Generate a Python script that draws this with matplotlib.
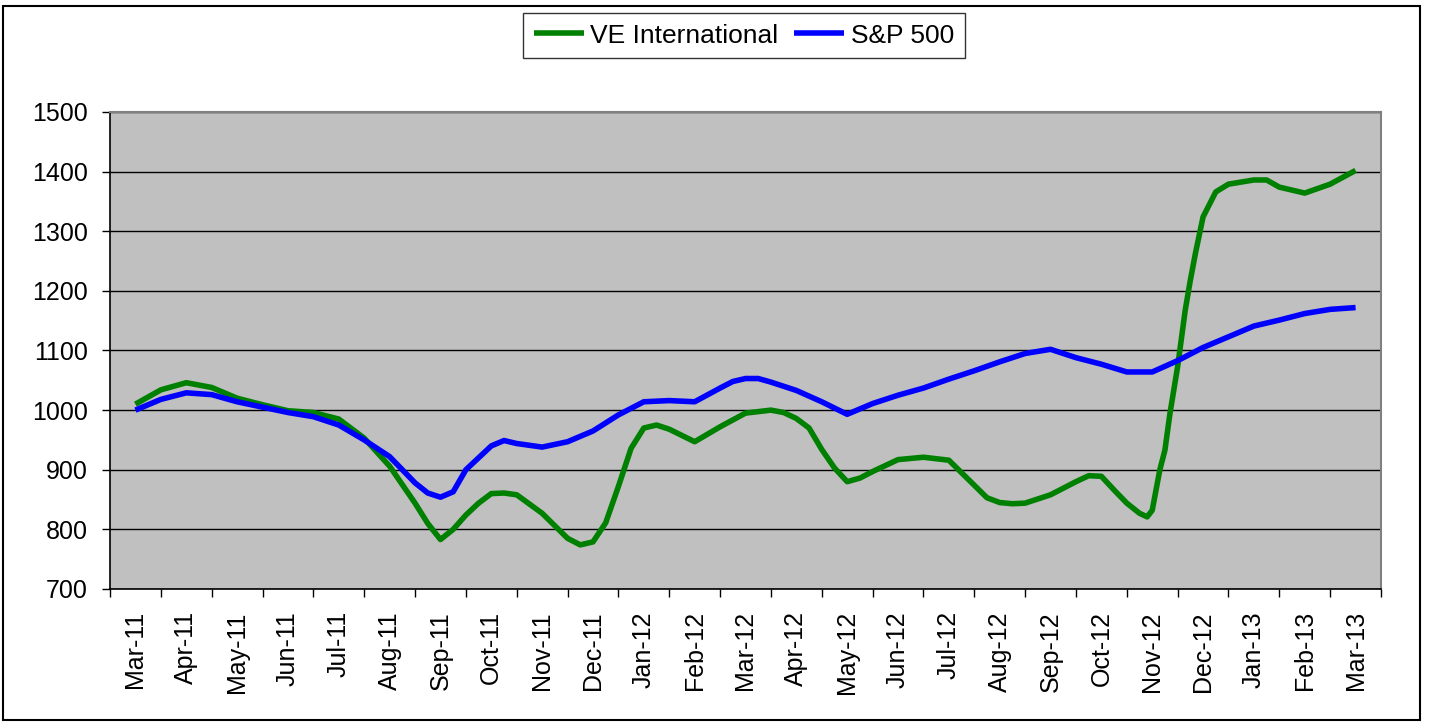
import matplotlib
matplotlib.use("Agg")
import matplotlib.pyplot as plt
from matplotlib.patches import Rectangle

plt.rcParams['font.family'] = ['Liberation Sans', 'DejaVu Sans']

months = ['Mar-11', 'Apr-11', 'May-11', 'Jun-11', 'Jul-11', 'Aug-11', 'Sep-11',
          'Oct-11', 'Nov-11', 'Dec-11', 'Jan-12', 'Feb-12', 'Mar-12', 'Apr-12',
          'May-12', 'Jun-12', 'Jul-12', 'Aug-12', 'Sep-12', 'Oct-12', 'Nov-12',
          'Dec-12', 'Jan-13', 'Feb-13', 'Mar-13']

# S&P 500 (x in months, 0 = Mar-11)
sp_x = [0, 0.5, 1, 1.5, 2, 2.5, 3, 3.5, 4, 4.5,
        5, 5.5, 5.75, 6, 6.25, 6.5, 7, 7.25, 7.5, 8,
        8.5, 9, 9.5, 10, 10.5, 11, 11.5, 11.75, 12, 12.25,
        12.5, 13, 13.5, 14, 14.5, 15, 15.5, 16, 16.5, 17,
        17.5, 18, 18.5, 19, 19.5, 20, 20.5, 21, 21.5, 22,
        22.5, 23, 23.5, 24]
sp_y = [1000, 1018, 1029, 1026, 1014, 1005, 996, 989, 975, 950,
        922, 878, 861, 854, 863, 900, 940, 949, 944, 938,
        947, 965, 992, 1014, 1016, 1014, 1037, 1048, 1053, 1053,
        1047, 1033, 1014, 993, 1011, 1025, 1037, 1052, 1066, 1081,
        1095, 1102, 1088, 1077, 1064, 1064, 1083, 1105, 1123, 1141,
        1151, 1162, 1169, 1172]

# VE International
ve_x = [0, 0.5, 1, 1.5, 2, 2.5, 3, 3.5, 4, 4.5,
        5, 5.5, 5.75, 6, 6.25, 6.5, 6.75, 7, 7.25, 7.5,
        8, 8.5, 8.75, 9, 9.25, 9.5, 9.75, 10, 10.25, 10.5,
        11, 11.5, 12, 12.5, 12.75, 13, 13.25, 13.5, 13.75, 14,
        14.25, 14.5, 15, 15.5, 16, 16.5, 16.75, 17, 17.25, 17.5,
        18, 18.5, 18.75, 19, 19.25, 19.5, 19.75, 19.9, 20.0, 20.15,
        20.25, 20.35, 20.5, 20.65, 20.75, 20.85, 21.0, 21.25, 21.5, 22.0,
        22.25, 22.5, 23.0, 23.5, 24.0]
ve_y = [1010, 1034, 1046, 1038, 1020, 1009, 999, 996, 985, 953,
        906, 844, 810, 783, 800, 824, 844, 860, 861, 858,
        827, 785, 774, 779, 811, 872, 936, 970, 975, 968,
        947, 972, 995, 1000, 996, 986, 970, 934, 903, 880,
        886, 897, 917, 921, 916, 874, 853, 845, 843, 844,
        858, 880, 890, 889, 866, 844, 827, 821, 832, 900,
        933, 995, 1073, 1168, 1218, 1263, 1324, 1366, 1379, 1386,
        1386, 1374, 1364, 1379, 1402]

fig = plt.figure(figsize=(14.29, 7.25), dpi=100)
ax = fig.add_axes([110 / 1429, 1 - 589 / 725, 1271 / 1429, 477 / 725])
ax.set_facecolor('#C0C0C0')

ax.plot(ve_x, ve_y, color='#008000', lw=4, solid_joinstyle='round',
        solid_capstyle='butt', label='VE International', zorder=3)
ax.plot(sp_x, sp_y, color='#0000FF', lw=4, solid_joinstyle='round',
        solid_capstyle='butt', label='S&P 500', zorder=3)

ax.set_xlim(-0.5, len(months) - 0.5)
ax.set_ylim(700, 1500)
ax.set_yticks(range(700, 1501, 100))
ax.yaxis.grid(True, color='black', lw=1)
ax.set_axisbelow(True)

# tick marks between months, labels in the middle of each month
ax.set_xticks([i - 0.5 for i in range(len(months) + 1)])
ax.set_xticklabels([])
ax.set_xticks(range(len(months)), months, minor=True, rotation=90)
ax.tick_params(axis='x', which='major', length=6, width=1, direction='out')
ax.tick_params(axis='x', which='minor', length=0, pad=16, labelsize=18)
ax.tick_params(axis='y', length=6, width=1, direction='out', pad=10, labelsize=18)

for s in ['left', 'bottom']:
    ax.spines[s].set_color('black')
    ax.spines[s].set_linewidth(1.2)
for s in ['top', 'right']:
    ax.spines[s].set_color('#808080')
    ax.spines[s].set_linewidth(1.5)

leg = fig.legend(loc='upper center', bbox_to_anchor=(744 / 1429, 1 - 13 / 725), ncol=2,
                 fontsize=19, frameon=True, fancybox=False, shadow=False,
                 handlelength=1.9, handletextpad=0.25, columnspacing=0.6,
                 borderpad=0.4, borderaxespad=0)
leg.get_frame().set_edgecolor('black')
leg.get_frame().set_linewidth(1)
for line in leg.get_lines():
    line.set_linewidth(4)

fig.patches.append(Rectangle((3 / 1429, 5 / 725), 1417 / 1429, 714 / 725,
                             transform=fig.transFigure, fill=False,
                             edgecolor='black', lw=1.5))

fig.savefig('out.png', dpi=100)
